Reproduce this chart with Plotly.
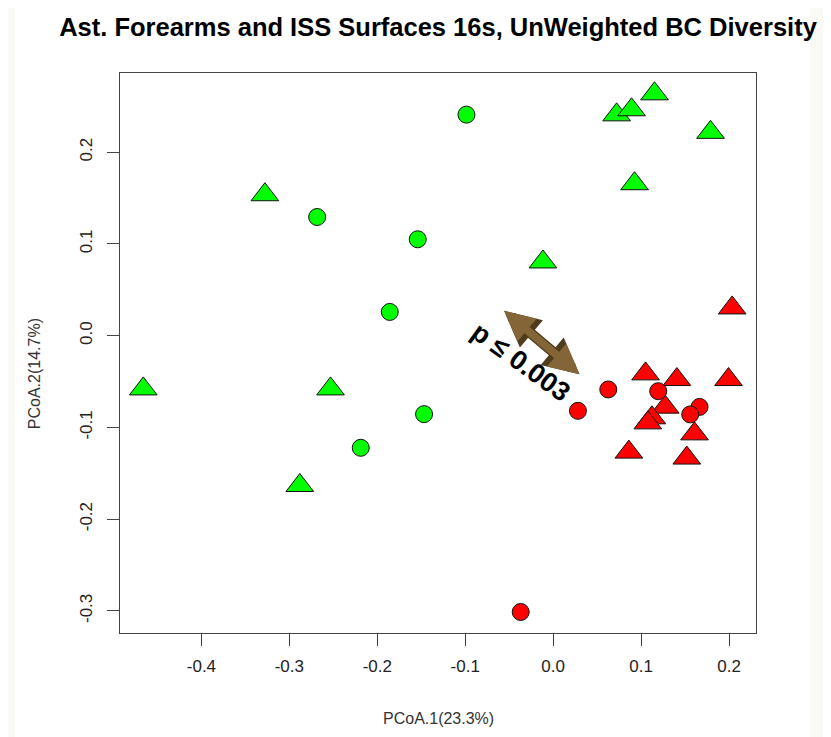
import plotly.graph_objects as go

# ---- data ----
green_circle_x = [-0.0986, -0.2684, -0.1540, -0.1858, -0.1468, -0.2188]
green_circle_y = [0.2410, 0.1294, 0.1051, 0.0259, -0.0855, -0.1222]

green_tri_x = [-0.4661, -0.3278, -0.2881, -0.2532, -0.0116, 0.0722, 0.0892, 0.1153, 0.1790, 0.0926]
green_tri_y = [-0.0580, 0.1537, -0.1633, -0.0580, 0.0804, 0.2408, 0.2463, 0.2637, 0.2217, 0.1657]

red_tri_x = [0.2036, 0.1051, 0.1407, 0.1994, 0.1275, 0.1123, 0.1077, 0.1608, 0.0861, 0.1520]
red_tri_y = [0.0303, -0.0416, -0.0478, -0.0478, -0.0779, -0.0895, -0.0950, -0.1070, -0.1269, -0.1334]

red_circle_x = [0.0282, 0.0627, 0.1195, 0.1665, 0.1559, -0.0369]
red_circle_y = [-0.0819, -0.0586, -0.0605, -0.0776, -0.0858, -0.3012]

x_ticks = [-0.4, -0.3, -0.2, -0.1, 0.0, 0.1, 0.2]
x_tick_labels = ["-0.4", "-0.3", "-0.2", "-0.1", "0.0", "0.1", "0.2"]
y_ticks = [-0.3, -0.2, -0.1, 0.0, 0.1, 0.2]
y_tick_labels = ["-0.3", "-0.2", "-0.1", "0.0", "0.1", "0.2"]

arrow_start = (-0.0575, 0.0285)
arrow_end = (0.0300, -0.0420)
p_label = "p \u2264 0.003"
p_label_pos = (-0.0370, -0.0285)

title_text = "Ast. Forearms and ISS Surfaces 16s, UnWeighted BC Diversity"
x_title = "PCoA.1(23.3%)"
y_title = "PCoA.2(14.7%)"

FONT = "Arial, Liberation Sans, sans-serif"
GREEN = "#00FF00"
RED = "#FF0000"

fig = go.Figure()

def add(xs, ys, color, symbol, size):
    fig.add_trace(go.Scatter(
        x=xs, y=ys, mode="markers",
        marker=dict(color=color, symbol=symbol, size=size,
                    line=dict(color="#111111", width=1)),
        hoverinfo="skip", showlegend=False))

add(green_tri_x, green_tri_y, GREEN, "triangle-up", 24)
add(green_circle_x, green_circle_y, GREEN, "circle", 17)
add(red_tri_x, red_tri_y, RED, "triangle-up", 24)
add(red_circle_x, red_circle_y, RED, "circle", 17)

# double-headed arrow: dark outline underneath, brown fill on top
for width, size, color in [(10.5, 0.68, "#4e3c1c"), (8, 0.75, "#836537")]:
    fig.add_annotation(
        x=arrow_end[0], y=arrow_end[1], ax=arrow_start[0], ay=arrow_start[1],
        xref="x", yref="y", axref="x", ayref="y",
        showarrow=True, arrowhead=2, startarrowhead=2, arrowside="end+start",
        arrowsize=size, startarrowsize=size, arrowwidth=width, arrowcolor=color,
        text="")

fig.add_annotation(
    x=p_label_pos[0], y=p_label_pos[1], xref="x", yref="y",
    text="<b>" + p_label + "</b>", showarrow=False, textangle=36,
    font=dict(family=FONT, size=27, color="#000000"))

# axis titles
fig.add_annotation(x=0.5, y=0, xref="paper", yref="paper", yshift=-85,
                   text=x_title, showarrow=False, yanchor="middle",
                   font=dict(family=FONT, size=16, color="#333333"))
fig.add_annotation(x=0, y=(633 - 374) / 560.4, xref="paper", yref="paper", xshift=-86,
                   text=y_title, showarrow=False, textangle=-90, xanchor="center",
                   yanchor="middle",
                   font=dict(family=FONT, size=16, color="#333333"))

# off-white strips at the page edges
fig.add_shape(type="rect", xref="paper", yref="paper",
              x0=1 + 54/636.5, x1=1 + 90/636.5, y0=-2, y1=2, fillcolor="#faf9f6",
              line=dict(width=0), layer="below")
fig.add_shape(type="rect", xref="paper", yref="paper",
              x0=-130/636.5, x1=-105/636.5, y0=-2, y1=2, fillcolor="#faf9f6",
              line=dict(width=0), layer="below")

axis_common = dict(showgrid=False, zeroline=False, showline=True, mirror=True,
                   linecolor="#444444", linewidth=1, ticks="outside", ticklen=12,
                   tickcolor="#444444", tickwidth=1,
                   tickfont=dict(family=FONT, size=17, color="#222222"))

fig.update_xaxes(range=[-0.4926, 0.2307], tickvals=x_ticks, ticktext=x_tick_labels,
                 ticklabelstandoff=6, **axis_common)
fig.update_yaxes(range=[-0.3241, 0.2864], tickvals=y_ticks, ticktext=y_tick_labels,
                 tickangle=-90, ticklabelstandoff=8, **axis_common)

# page has an 8px body margin, so the figure is sized to fit the window
fig.update_layout(
    width=823, height=729,
    margin=dict(l=112, r=74.5, t=65, b=103.6),
    paper_bgcolor="#ffffff", plot_bgcolor="#ffffff",
    title=dict(text="<b>" + title_text + "</b>", x=(438 - 8) / 823, xanchor="center",
               y=1 - 19/729, yanchor="middle",
               font=dict(family=FONT, size=25.5, color="#000000")),
    showlegend=False,
)

fig.write_html("out.html")
